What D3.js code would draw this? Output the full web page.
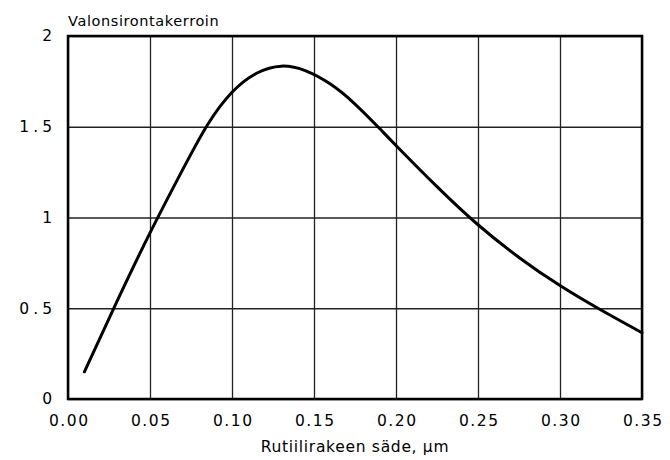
<!DOCTYPE html>
<html>
<head>
<meta charset="utf-8">
<script src="https://cdn.jsdelivr.net/npm/d3@7"></script>
<style>
  body { margin: 0; background: #fff; }
  svg { display: block; }
</style>
</head>
<body>
<div id="chart"></div>
<script>
// values
const radius = [0.010, 0.030, 0.050, 0.070, 0.085, 0.100, 0.115, 0.130, 0.145, 0.160, 0.175, 0.190, 0.200, 0.225, 0.250, 0.275, 0.300, 0.325, 0.350];
const scatter = [0.15, 0.54, 0.915, 1.265, 1.51, 1.69, 1.795, 1.834, 1.808, 1.735, 1.625, 1.49, 1.397, 1.17, 0.96, 0.78, 0.625, 0.49, 0.365];
const xTicks = [0, 0.05, 0.10, 0.15, 0.20, 0.25, 0.30, 0.35];
const yTicks = [0, 0.5, 1, 1.5, 2];

const width = 670;
const height = 460;
const marginTop = 36;
const marginRight = 28;
const marginBottom = 61;
const marginLeft = 68;
const fontFamily = "'DejaVu Sans', sans-serif";

const svg = d3.select("#chart")
  .append("svg")
  .attr("width", width)
  .attr("height", height)
  .attr("viewBox", [0, 0, width, height]);

const x = d3.scaleLinear()
  .domain([0, 0.35])
  .range([marginLeft, width - marginRight]);

const y = d3.scaleLinear()
  .domain([0, 2])
  .range([height - marginBottom, marginTop]);

// grid
svg.append("g")
  .attr("transform", `translate(0,${height - marginBottom})`)
  .call(d3.axisBottom(x).tickValues(xTicks).tickSize(-(height - marginTop - marginBottom)).tickFormat(""))
  .call((g) => g.select(".domain").remove())
  .call((g) => g.selectAll(".tick line").attr("stroke", "#222").attr("stroke-width", 1.3));

svg.append("g")
  .attr("transform", `translate(${marginLeft},0)`)
  .call(d3.axisLeft(y).tickValues(yTicks).tickSize(-(width - marginLeft - marginRight)).tickFormat(""))
  .call((g) => g.select(".domain").remove())
  .call((g) => g.selectAll(".tick line").attr("stroke", "#222").attr("stroke-width", 1.3));

// tick labels
const xAxis = svg.append("g")
  .attr("transform", `translate(0,${height - marginBottom})`)
  .call(d3.axisBottom(x).tickValues(xTicks).tickSize(0).tickPadding(16).tickFormat(d3.format(".2f")));
xAxis.select(".domain").remove();
xAxis.selectAll(".tick text")
  .attr("font-family", fontFamily)
  .attr("font-size", 15.5)
  .attr("letter-spacing", "1.5px")
  .attr("dx", "0.75px")
  .attr("fill", "#000");

const yAxis = svg.append("g")
  .attr("transform", `translate(${marginLeft},0)`)
  .call(d3.axisLeft(y).tickValues(yTicks).tickSize(0).tickPadding(16).tickFormat((d) => String(d)));
yAxis.select(".domain").remove();
yAxis.selectAll(".tick text")
  .attr("font-family", fontFamily)
  .attr("font-size", 15.5)
  .attr("letter-spacing", "4px")
  .attr("dx", "4px")
  .attr("fill", "#000");

// frame
svg.append("rect")
  .attr("x", marginLeft)
  .attr("y", marginTop)
  .attr("width", width - marginLeft - marginRight)
  .attr("height", height - marginTop - marginBottom)
  .attr("fill", "none")
  .attr("stroke", "#000")
  .attr("stroke-width", 2.5);

// curve
const line = d3.line()
  .curve(d3.curveNatural)
  .x((d, i) => x(radius[i]))
  .y((d) => y(d));

svg.append("path")
  .datum(scatter)
  .attr("fill", "none")
  .attr("stroke", "#000")
  .attr("stroke-width", 3)
  .attr("stroke-linecap", "round")
  .attr("d", line);

// labels
svg.append("text")
  .attr("x", marginLeft)
  .attr("y", 26)
  .attr("font-family", fontFamily)
  .attr("font-size", 14.5)
  .attr("letter-spacing", "0.6px")
  .attr("fill", "#000")
  .text("Valonsirontakerroin");

svg.append("text")
  .attr("x", (marginLeft + width - marginRight) / 2)
  .attr("y", 452)
  .attr("text-anchor", "middle")
  .attr("font-family", fontFamily)
  .attr("font-size", 15.5)
  .attr("letter-spacing", "0.7px")
  .attr("fill", "#000")
  .text("Rutiilirakeen säde, µm");
</script>
</body>
</html>
